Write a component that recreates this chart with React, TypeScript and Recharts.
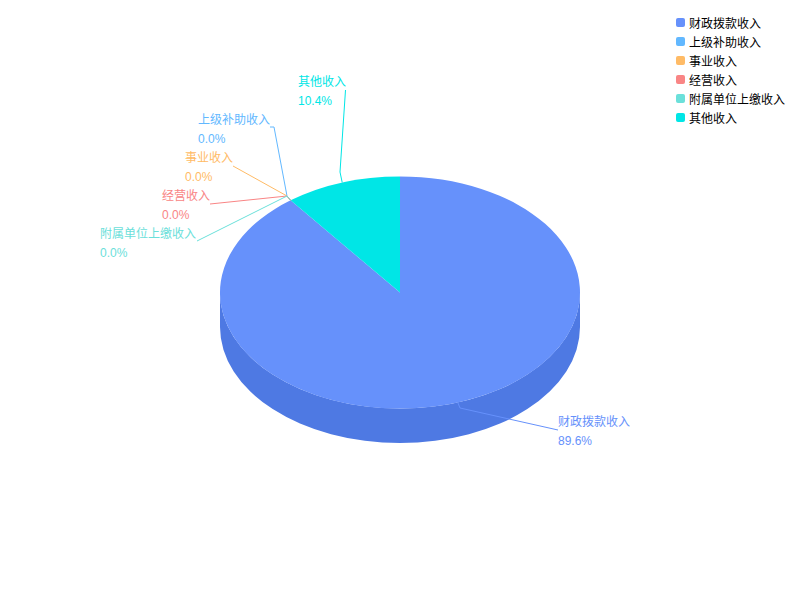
import { PieChart, Pie, Legend } from 'recharts';

const categories = ['财政拨款收入', '上级补助收入', '事业收入', '经营收入', '附属单位上缴收入', '其他收入'];
const amounts = [89.6, 0, 0, 0, 0, 10.4];
const colors = ['#6691fb', '#62b8ff', '#ffbb66', '#f98585', '#6be0da', '#00e6e6'];
const wallColors = ['#4e79e3', '#4a9fe6', '#e6a24e', '#e06c6c', '#52c7c1', '#00cfcf'];

const FONT = '"Liberation Sans", "Noto Sans CJK SC", sans-serif';
const SQUASH = 0.645; // tilt of the pie
const DEPTH = 34.5;

const pieData = categories.map((name, i) => ({ name, value: amounts[i], fill: colors[i] }));

// hand placed labels: text left edge, text row, then the bends of the leader line
const labelSpots = [
  { x: 558, y: 422, line: [[460, 408], [558, 430]] },
  { x: 198, y: 120, line: [[287, 196], [274, 127], [270, 127]] },
  { x: 185, y: 158, line: [[287, 196], [233, 166]] },
  { x: 162, y: 196, line: [[287, 196], [210, 204]] },
  { x: 100, y: 234, line: [[287, 196], [197, 241]] },
  { x: 298, y: 82, line: [[340, 172], [345.5, 90]] },
];

const toPoint = (cx: number, cy: number, r: number, deg: number) => {
  const a = (deg * Math.PI) / 180;
  return [cx + r * Math.cos(a), cy - r * SQUASH * Math.sin(a)];
};

const Slice3D = (props: any) => {
  const { cx, cy, outerRadius: r, startAngle, endAngle, index } = props;
  if (Math.abs(startAngle - endAngle) < 0.01) return null;
  const [x0, y0] = toPoint(cx, cy, r, startAngle);
  const [x1, y1] = toPoint(cx, cy, r, endAngle);
  const large = Math.abs(startAngle - endAngle) > 180 ? 1 : 0;
  const ry = r * SQUASH;
  const top = `M${cx},${cy} L${x0},${y0} A${r},${ry} 0 ${large} 1 ${x1},${y1} Z`;

  // only the front half of the rim can be seen (-180..0 degrees)
  let wall = null;
  const from = Math.min(startAngle, 0);
  const to = Math.max(endAngle, -180);
  if (from > to) {
    const [wx0, wy0] = toPoint(cx, cy, r, from);
    const [wx1, wy1] = toPoint(cx, cy, r, to);
    wall = (
      <path
        d={`M${wx0},${wy0} A${r},${ry} 0 0 1 ${wx1},${wy1} L${wx1},${wy1 + DEPTH} A${r},${ry} 0 0 0 ${wx0},${wy0 + DEPTH} Z`}
        fill={wallColors[index]}
      />
    );
  }
  return (
    <g>
      {wall}
      <path d={top} fill={colors[index]} />
    </g>
  );
};

const SliceLabel = (props: any) => {
  const { cx, cy, outerRadius, midAngle, percent, name, index } = props;
  const spot = labelSpots[index];
  const [ex, ey] = toPoint(cx, cy, outerRadius, midAngle);
  const pts = [[ex, ey], ...spot.line].map((p) => p.join(',')).join(' ');
  return (
    <g>
      <polyline points={pts} fill="none" stroke={colors[index]} strokeWidth={1} />
      <text x={spot.x} y={spot.y} fill={colors[index]} fontSize={12} fontFamily={FONT} dominantBaseline="central">
        {name}
      </text>
      <text x={spot.x} y={spot.y + 19} fill={colors[index]} fontSize={12} fontFamily={FONT} dominantBaseline="central">
        {`${(percent * 100).toFixed(1)}%`}
      </text>
    </g>
  );
};

const LegendList = ({ payload }: any) => (
  <div style={{ fontFamily: FONT, fontSize: 12, color: '#000' }}>
    {(payload || []).map((item: any) => (
      <div key={item.value} style={{ display: 'flex', alignItems: 'center', height: 19, whiteSpace: 'nowrap' }}>
        <span style={{ width: 9, height: 9, borderRadius: 2, background: item.color, marginRight: 4 }} />
        {item.value}
      </div>
    ))}
  </div>
);

export default function App() {
  return (
    <div style={{ position: 'absolute', left: 0, top: 0 }}>
      <PieChart width={800} height={600} margin={{ top: 0, right: 0, bottom: 0, left: 0 }}>
        <Legend
          content={<LegendList />}
          itemSorter={null}
          wrapperStyle={{ left: 676, top: 13, width: 120, right: 'auto', bottom: 'auto' }}
        />
        <Pie
          data={pieData}
          dataKey="value"
          nameKey="name"
          cx={400}
          cy={292.5}
          innerRadius={0}
          outerRadius={180}
          startAngle={90}
          endAngle={-270}
          stroke="none"
          shape={Slice3D}
          label={SliceLabel}
          labelLine={false}
          isAnimationActive={false}
        />
      </PieChart>
    </div>
  );
}
